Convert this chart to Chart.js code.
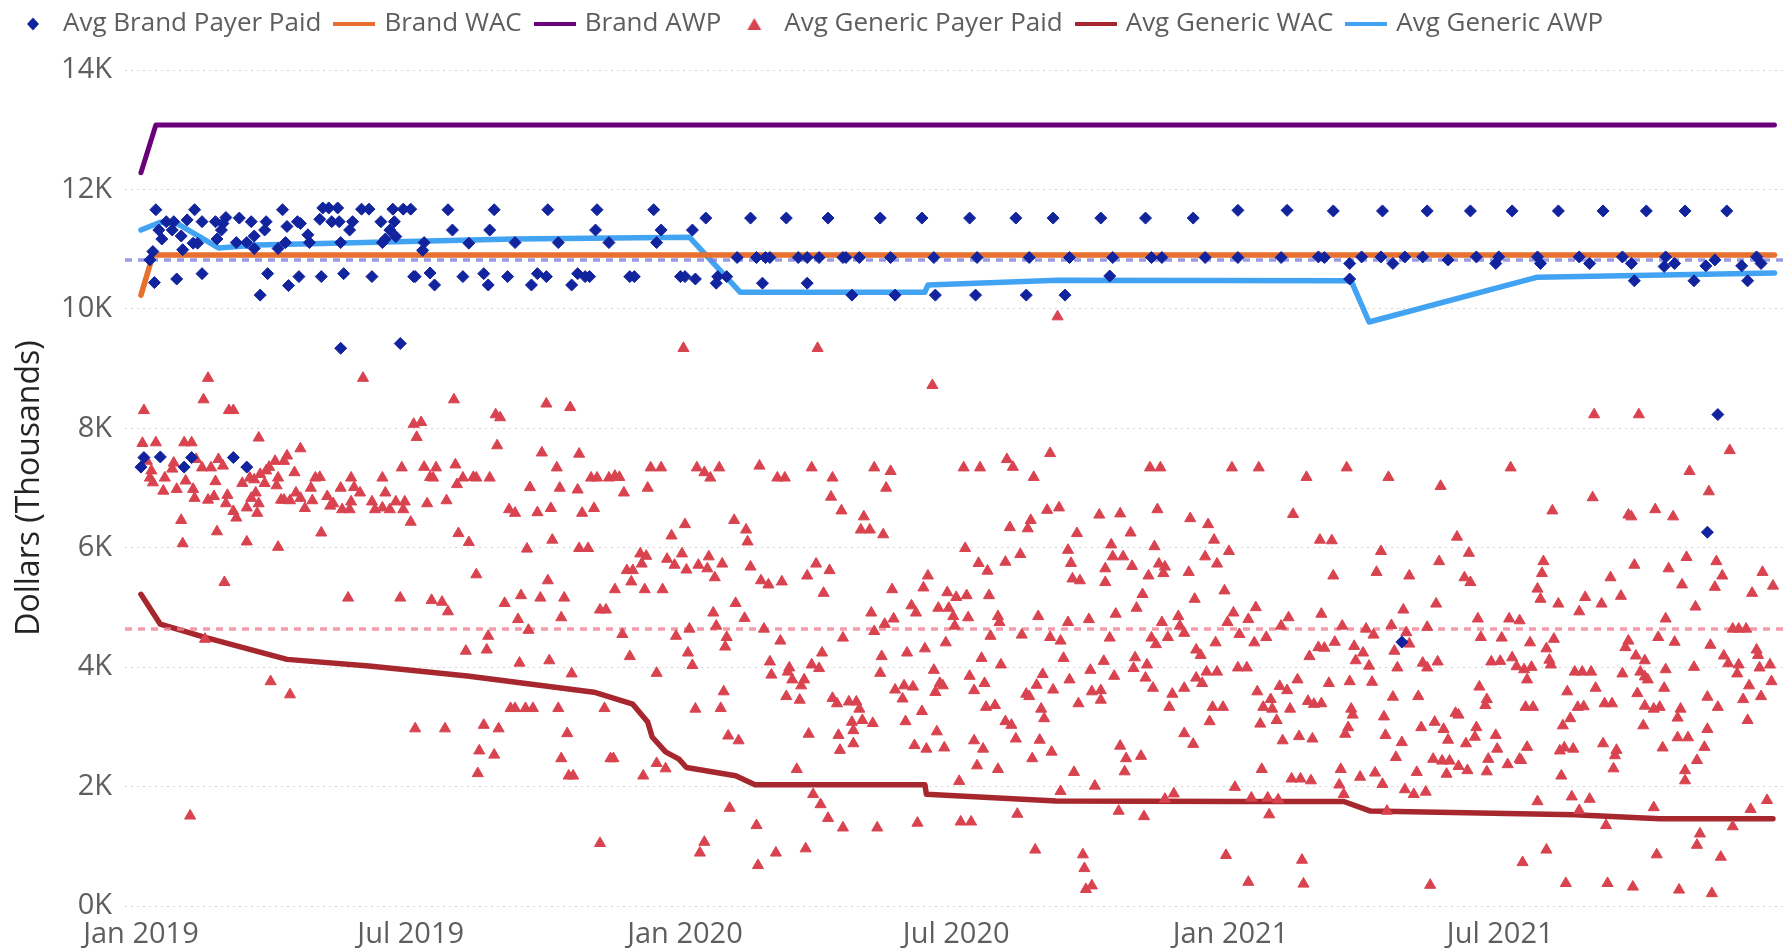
<!DOCTYPE html>
<html>
<head>
<meta charset="utf-8">
<script src="https://cdn.jsdelivr.net/npm/chart.js@4.4.0/dist/chart.umd.min.js"></script>
<style>
html, body { margin: 0; padding: 0; background: #fff; }
#wrap { width: 1792px; height: 948px; }
</style>
</head>
<body>
<div id="wrap"><canvas id="chart" width="1792" height="948"></canvas></div>
<script>
// x values are days counted from 1 Jan 2019, y values are thousands of dollars
const tickDays = [0, 181, 365, 547, 731, 912];
const tickLabels = ['Jan 2019', 'Jul 2019', 'Jan 2020', 'Jul 2020', 'Jan 2021', 'Jul 2021'];
const dayMin = -10.7;
const dayMax = 1102.8;

const avgBrandPaid = 10.82;
const avgGenericPaid = 4.64;

const brandWac = [[0,10.23],[8,10.9],[1096,10.9]];
const brandAwp = [[0,12.28],[10,13.08],[1096,13.08]];

const genericAwp = [[0,11.32],[13,11.45],[25,11.42],[52,11.02],[78,11.07],[250,11.17],[368,11.2],[402,10.28],
  [526,10.28],[528,10.4],[615,10.48],[812,10.47],[824,9.78],[937,10.53],[1096,10.6]];

const genericWac = [[0,5.22],[13,4.72],[43,4.50],[98,4.13],[153,4.02],[219,3.85],[304,3.58],[330,3.38],[340,3.08],
  [343,2.83],[352,2.58],[361,2.46],[366,2.32],[399,2.18],[412,2.03],[526,2.03],[527,1.87],[614,1.76],[736,1.75],
  [807,1.75],[825,1.59],[962,1.53],[1019,1.46],[1095,1.46]];

const brandPaid = [
  [10,11.66],[36,11.66],[95,11.66],[122,11.69],[126,11.69],[132,11.69],[148,11.67],[153,11.67],[169,11.67],[176,11.67],
  [181,11.67],[206,11.66],[237,11.66],[273,11.66],[306,11.66],[344,11.66],
  [17,11.46],[22,11.46],[31,11.49],[41,11.46],[50,11.46],[57,11.53],[55,11.43],[66,11.52],[74,11.46],[84,11.46],
  [105,11.46],[107,11.43],[120,11.50],[128,11.46],[133,11.46],[142,11.46],[161,11.46],[170,11.46],
  [209,11.32],[234,11.32],[305,11.32],[349,11.32],[370,11.32],
  [12,11.32],[21,11.32],[14,11.17],[27,11.22],[35,11.10],[38,11.10],[51,11.17],[54,11.32],[64,11.11],[71,11.11],
  [76,11.22],[83,11.32],[76,11.01],[98,11.38],[97,11.11],[92,11.01],[112,11.24],[113,11.11],[134,11.11],[140,11.32],
  [162,11.11],[164,11.17],[167,11.32],[171,11.21],[190,11.11],[220,11.10],[251,11.11],[280,11.11],[314,11.11],[346,11.11],
  [8,10.96],[6,10.82],[28,10.99],[189,10.98],
  [9,10.44],[24,10.50],[41,10.59],[80,10.23],[85,10.59],[99,10.39],[106,10.54],[121,10.54],[136,10.59],[155,10.54],
  [183,10.54],[184,10.54],[194,10.60],[197,10.40],[216,10.54],[230,10.59],[233,10.40],[246,10.54],[262,10.40],[266,10.59],
  [272,10.54],[289,10.40],[293,10.59],[298,10.54],[301,10.54],[328,10.54],[331,10.54],[362,10.54],[365,10.54],[372,10.50],
  [134,9.34],[174,9.42],
  [2,7.51],[13,7.52],[0,7.35],[29,7.35],[34,7.51],[62,7.51],[71,7.35],
  [379,11.52],[409,11.52],[433,11.52],[461,11.52],[496,11.52],[524,11.52],[556,11.52],[587,11.52],[612,11.52],[644,11.52],
  [674,11.52],[706,11.52],[736,11.65],[769,11.65],
  [400,10.86],[413,10.86],[419,10.86],[422,10.86],[441,10.86],[447,10.86],[455,10.86],[471,10.86],[473,10.86],[482,10.86],
  [503,10.86],[532,10.86],[561,10.86],[596,10.86],[623,10.86],[652,10.86],[678,10.86],[685,10.86],[714,10.86],[736,10.86],
  [765,10.86],
  [386,10.43],[387,10.54],[393,10.54],[417,10.43],[447,10.43],[650,10.55],
  [477,10.23],[506,10.23],[533,10.23],[560,10.23],[594,10.23],[620,10.23],
  [800,11.64],[833,11.64],[863,11.64],[892,11.64],[920,11.64],[951,11.64],[981,11.64],[1010,11.64],[1036,11.64],[1064,11.64],
  [790,10.87],[794,10.86],[819,10.87],[832,10.87],[848,10.87],[860,10.87],[877,10.82],[896,10.87],[911,10.87],[937,10.87],
  [965,10.87],[994,10.87],[1023,10.87],[1056,10.82],[1084,10.87],
  [811,10.76],[840,10.76],[909,10.76],[939,10.76],[972,10.76],[1000,10.76],[1022,10.71],[1029,10.76],[1050,10.72],
  [1074,10.72],[1087,10.76],
  [811,10.50],[1002,10.47],[1042,10.47],[1078,10.47],
  [1058,8.23],[1051,6.26],[846,4.42]
];

const genericPaid = [
  [149,8.84],[45,8.84],[42,8.48],[2,8.30],[59,8.30],[62,8.30],[210,8.48],[272,8.41],[288,8.35],[238,8.23],[241,8.18],
  [183,8.07],[188,8.10],[185,7.85],[79,7.84],[239,7.71],[107,7.66],[1,7.75],[10,7.76],[29,7.76],[34,7.76],[269,7.59],
  [294,7.57],[98,7.54],[96,7.45],
  [4,7.45],[7,7.29],[6,7.17],[8,7.09],[15,6.95],[16,7.17],[22,7.42],[21,7.32],[24,6.98],[30,7.12],[35,6.98],[36,6.83],
  [37,7.48],[41,7.34],[45,6.80],[49,6.86],[50,7.11],[47,7.34],[52,7.48],[55,7.37],[58,6.88],[57,6.74],[62,6.61],[64,6.50],
  [68,7.08],[71,6.67],[73,7.17],[76,7.14],[77,6.92],[74,6.83],[78,6.58],[79,6.74],[80,7.23],[84,7.29],[83,7.08],[86,7.35],
  [90,7.45],[91,7.04],[92,7.17],[94,6.80],[96,6.80],[100,6.79],[103,7.26],[104,6.92],[107,6.83],[110,6.66],[114,7.00],
  [115,6.79],[117,7.17],[120,7.18],[125,6.86],[127,6.70],[129,6.74],[134,7.00],[135,6.64],[140,6.64],[141,7.17],[143,7.01],
  [141,6.77],[147,6.92],[155,6.77],[157,6.64],[162,7.17],[164,6.92],[162,6.67],[167,6.64],[171,6.77],[176,6.64],[177,6.77],
  [175,7.34],[181,6.43],[190,7.35],[198,7.34],[194,7.18],[196,7.17],[192,6.74],[205,6.79],[211,7.39],[212,7.06],[216,7.17],
  [223,7.18],[225,7.17],[234,7.17],[247,6.64],[251,6.58],[261,7.01],[266,6.59],[275,6.66],[279,7.34],[281,7.00],[293,6.97],
  [296,6.58],[304,6.66],[302,7.17],[306,7.17],[314,7.17],[318,7.20],[321,7.18],[324,6.92],[340,7.00],[342,7.34],[349,7.34],
  [27,6.46],[51,6.27],[28,6.07],[71,6.10],[92,6.01],[121,6.25],[213,6.24],[220,6.09],[259,5.98],[276,6.13],[294,5.99],
  [300,5.99],[356,6.20],[335,5.90],[339,5.86],[336,5.73],[353,5.81],[358,5.71],[326,5.62],[330,5.62],[329,5.43],[318,5.30],
  [338,5.30],[350,5.30],[56,5.42],[225,5.55],[273,5.45],
  [139,5.16],[174,5.16],[195,5.12],[202,5.09],[206,4.93],[244,5.07],[255,5.20],[268,5.16],[284,5.16],[253,4.80],[282,4.83],
  [308,4.96],[312,4.96],[260,4.62],[233,4.52],[323,4.55],[359,4.52],[43,4.47],[218,4.27],[232,4.29],[328,4.18],[254,4.07],
  [274,4.11],[346,3.90],[289,3.89],
  [87,3.76],[100,3.54],[248,3.31],[251,3.31],[258,3.31],[263,3.31],[280,3.31],[311,3.31],[184,2.97],[204,2.97],[230,3.03],
  [240,2.97],[286,2.89],[227,2.60],[237,2.53],[282,2.47],[315,2.47],[317,2.47],[346,2.39],[352,2.30],[226,2.22],[287,2.18],
  [290,2.18],[337,2.18],[308,1.05],[33,1.51],
  [364,9.34],[454,9.34],[615,9.87],[531,8.72],[610,7.58],[581,7.48],[585,7.35],[373,7.34],[378,7.26],[382,7.17],[388,7.34],
  [415,7.37],[427,7.17],[432,7.17],[450,7.34],[464,7.17],[492,7.34],[503,7.28],[500,7.00],[463,6.85],[470,6.62],[552,7.34],
  [563,7.34],[599,7.18],[677,7.34],[684,7.34],[732,7.34],[608,6.63],[616,6.67],[643,6.55],[657,6.57],[682,6.64],[704,6.49],
  [716,6.39],[365,6.39],[398,6.46],[406,6.30],[407,6.10],[485,6.52],[483,6.30],[489,6.30],[498,6.22],[628,6.24],[583,6.34],
  [597,6.46],[595,6.32],[664,6.25],[720,6.13],[553,5.99],[590,5.89],[580,5.76],[562,5.74],[568,5.61],[622,5.96],[651,6.05],
  [652,5.85],[659,5.85],[680,6.02],[730,5.94],[714,5.85],[722,5.73],[624,5.74],[647,5.65],[665,5.69],[683,5.73],[687,5.68],
  [686,5.57],[703,5.59],[625,5.48],[630,5.45],[647,5.42],[676,5.53],[363,5.90],[381,5.85],[374,5.71],[366,5.63],[380,5.65],
  [390,5.73],[385,5.50],[409,5.68],[416,5.45],[421,5.38],[430,5.43],[447,5.53],[453,5.73],[462,5.62],[458,5.24],[504,5.30],
  [528,5.53],[525,5.33],[541,5.25],[547,5.17],[554,5.20],[569,5.20],[672,5.22],[727,5.28],[707,5.14],[399,5.07],[384,4.91],
  [386,4.69],[405,4.82],[368,4.64],[393,4.50],[392,4.34],[418,4.64],[429,4.44],[367,4.24],[370,4.03],[457,4.24],[471,4.49],
  [492,4.60],[499,4.72],[505,4.81],[490,4.91],[517,5.03],[520,4.91],[535,4.99],[542,4.99],[545,4.85],[546,4.69],[555,4.83],
  [575,4.85],[576,4.75],[602,4.85],[622,4.75],[636,4.80],[654,4.89],[668,4.99],[685,4.75],[696,4.85],[697,4.69],[729,4.75],
  [733,4.91],[570,4.52],[591,4.54],[610,4.50],[617,4.44],[650,4.49],[678,4.49],[681,4.38],[689,4.50],[700,4.57],[721,4.41],
  [708,4.29],[711,4.20],[540,4.41],[526,4.31],[514,4.24],[497,4.18],[496,3.90],[564,4.15],[577,4.04],[605,3.88],[619,4.15],
  [646,4.10],[667,4.16],[675,4.04],[666,3.98],[637,3.95],[653,3.85],[674,3.82],[708,3.82],[715,3.92],[722,3.92],[422,4.09],
  [423,3.87],[435,3.99],[437,3.79],[434,3.92],[450,4.04],[455,3.98],[445,3.79],[443,3.69],[532,3.95],[556,3.85],[566,3.73],
  [601,3.70],[623,3.79],[679,3.65],[712,3.73],[692,3.55],[700,3.65],[391,3.59],[433,3.51],[442,3.45],[464,3.48],[467,3.39],
  [475,3.42],[480,3.42],[482,3.30],[506,3.62],[512,3.69],[518,3.67],[511,3.47],[533,3.58],[538,3.69],[536,3.73],[559,3.61],
  [594,3.55],[596,3.51],[612,3.62],[638,3.59],[644,3.61],[644,3.45],[629,3.39],[690,3.33],[719,3.33],[726,3.33],[372,3.30],
  [389,3.31],[477,3.08],[478,2.94],[484,3.11],[491,3.06],[513,3.09],[524,3.26],[567,3.33],[573,3.36],[580,3.09],[584,3.03],
  [604,3.30],[606,3.14],[657,2.68],[661,2.47],[671,2.51],[660,2.25],[700,2.89],[706,2.71],[717,3.09],[394,2.85],[401,2.77],
  [448,2.88],[468,2.86],[469,2.61],[478,2.72],[519,2.69],[527,2.63],[539,2.65],[534,2.92],[559,2.77],[565,2.63],[587,2.80],
  [603,2.78],[611,2.58],[561,2.35],[575,2.29],[598,2.47],[626,2.24],[440,2.29],[549,2.09],[640,2.01],[617,1.92],[693,1.88],
  [687,1.79],[734,1.99],[395,1.64],[451,1.87],[456,1.70],[461,1.47],[413,1.35],[471,1.31],[494,1.31],[521,1.39],[550,1.41],
  [557,1.41],[588,1.54],[656,1.59],[673,1.50],[378,1.07],[375,0.89],[426,0.89],[446,0.96],[414,0.68],[600,0.94],[632,0.86],
  [633,0.63],[634,0.28],[638,0.34],[728,0.85],
  [975,8.23],[1005,8.23],[1066,7.63],[1039,7.28],[1052,6.94],[974,6.84],[947,6.62],[998,6.55],[1000,6.52],[1016,6.64],
  [1028,6.52],[750,7.34],[809,7.34],[782,7.18],[837,7.18],[872,7.03],[919,7.34],[773,6.56],[791,6.13],[799,6.12],[883,6.18],
  [832,5.94],[891,5.91],[871,5.77],[829,5.59],[800,5.53],[851,5.53],[888,5.50],[892,5.42],[941,5.77],[940,5.57],[937,5.31],
  [939,5.14],[951,5.06],[969,5.17],[965,4.93],[980,5.06],[986,5.50],[993,5.19],[1002,5.71],[1025,5.65],[1037,5.84],
  [1034,5.38],[1043,5.01],[1057,5.77],[1061,5.53],[1056,5.34],[1088,5.59],[1081,5.24],[1095,5.36],[748,5.00],[743,4.80],
  [770,4.83],[792,4.89],[765,4.69],[737,4.55],[755,4.50],[747,4.41],[806,4.69],[822,4.64],[827,4.54],[839,4.70],[847,4.96],
  [863,4.67],[869,5.06],[897,4.81],[918,4.81],[925,4.78],[899,4.50],[913,4.49],[932,4.41],[948,4.47],[943,4.31],[945,4.12],
  [946,4.04],[1023,4.81],[1018,4.50],[1029,4.42],[998,4.44],[996,4.33],[1003,4.19],[1009,4.11],[1053,4.37],[1068,4.64],
  [1072,4.64],[1077,4.64],[1084,4.29],[1085,4.20],
  [790,4.33],[794,4.32],[801,4.42],[814,4.35],[820,4.24],[815,4.11],[824,4.02],[784,4.18],[841,4.27],[849,4.58],[851,4.39],
  [843,3.99],[860,4.07],[863,3.99],[870,4.09],[906,4.09],[912,4.10],[920,4.16],[923,4.01],[928,3.96],[933,4.00],[930,3.79],
  [962,3.92],[967,3.92],[973,3.92],[994,3.89],[1006,3.92],[1009,3.84],[1011,3.79],[1023,3.96],[1042,4.00],[1062,4.19],
  [1065,4.06],[1072,4.04],[1071,3.89],[1086,3.99],[1093,4.04],[1094,3.76],[1079,3.69],[1075,3.46],[1087,3.51],[1078,3.11],
  [1051,3.50],[1058,3.33],[1051,2.96],[1049,2.66],[1044,2.44],[1036,2.27],[1036,2.10],[1033,3.30],[1031,3.15],[1038,2.82],
  [1031,2.82],[1021,2.65],[1008,3.02],[1022,3.65],[1019,3.33],[1015,3.30],[1009,3.35],[1004,3.56],[982,3.39],[987,3.39],
  [976,3.65],[968,3.34],[964,3.33],[959,3.14],[954,3.02],[957,3.59],[952,2.60],[955,2.65],[961,2.63],[953,2.18],[981,2.72],
  [990,2.61],[989,2.52],[988,2.30],[736,3.99],[742,3.99],[749,3.59],[764,3.68],[769,3.61],[776,3.79],[797,3.73],[811,3.76],
  [826,3.75],[758,3.46],[753,3.33],[759,3.30],[771,3.30],[783,3.43],[787,3.38],[792,3.39],[812,3.30],[813,3.20],[834,3.17],
  [751,3.05],[762,3.11],[766,2.77],[777,2.84],[786,2.80],[810,2.99],[808,2.88],[835,2.86],[840,3.50],[857,3.51],[846,2.74],
  [842,2.49],[859,2.99],[868,3.08],[874,2.96],[877,2.78],[882,3.23],[884,3.20],[889,2.72],[896,2.99],[895,2.83],[898,3.67],
  [903,3.46],[902,3.36],[909,2.86],[910,2.63],[904,2.46],[903,2.25],[917,2.37],[925,2.46],[926,2.44],[930,2.66],[929,3.33],
  [934,3.33],[867,2.46],[873,2.43],[878,2.43],[876,2.21],[884,2.34],[890,2.27],[856,2.24],[848,1.95],[854,1.87],[862,1.91],
  [752,2.29],[772,2.13],[778,2.13],[785,2.10],[805,2.29],[804,2.03],[818,2.16],[828,2.23],[833,2.04],[745,1.81],[756,1.81],
  [763,1.78],[807,1.87],[937,1.75],[960,1.83],[972,1.79],[965,1.60],[1015,1.65],[1080,1.62],[1091,1.77],[757,1.53],
  [836,1.59],[983,1.35],[1046,1.21],[1044,1.02],[1068,1.33],[779,0.77],[943,0.94],[927,0.73],[1017,0.86],[1060,0.82],
  [743,0.40],[780,0.37],[865,0.35],[956,0.38],[984,0.38],[1001,0.32],[1032,0.27],[1054,0.21]
];

const navy = '#12239E';
const orange = '#E8702F';
const purple = '#6B007B';
const red = '#D9434F';
const maroon = '#A6282E';
const skyBlue = '#41A3F2';

function toPoints(arr) {
    return arr.map(p => ({x: p[0], y: p[1]}));
}

function flat(value) {
    return [{x: dayMin, y: value}, {x: dayMax, y: value}];
}

// small canvases used as legend markers
function icon(w, h, draw) {
    const c = document.createElement('canvas');
    c.width = w;
    c.height = h;
    draw(c.getContext('2d'));
    return c;
}

function lineIcon(color) {
    return icon(42, 4, g => { g.fillStyle = color; g.fillRect(0, 0, 42, 4); });
}

const diamondIcon = icon(16, 16, g => {
    g.fillStyle = navy;
    g.beginPath();
    g.moveTo(8, 1.5); g.lineTo(14, 8); g.lineTo(8, 14.5); g.lineTo(2, 8);
    g.closePath();
    g.fill();
});

const triangleIcon = icon(16, 14, g => {
    g.fillStyle = red;
    g.beginPath();
    g.moveTo(8, 1); g.lineTo(15, 13); g.lineTo(1, 13);
    g.closePath();
    g.fill();
});

const legendIcons = [diamondIcon, lineIcon(orange), lineIcon(purple), triangleIcon, lineIcon(maroon), lineIcon(skyBlue)];

function lineSet(label, data, color, width) {
    return {
        label: label,
        data: toPoints(data),
        showLine: true,
        borderColor: color,
        backgroundColor: color,
        borderWidth: width,
        pointRadius: 0,
        tension: 0,
        borderCapStyle: 'round',
        borderJoinStyle: 'round',
        order: 3
    };
}

const datasets = [
    {
        label: 'Avg Brand Payer Paid',
        data: toPoints(brandPaid),
        pointStyle: 'rectRot',
        pointRadius: 6,
        borderWidth: 1,
        backgroundColor: navy,
        borderColor: navy,
        order: 0
    },
    lineSet('Brand WAC', brandWac, orange, 5.5),
    lineSet('Brand AWP', brandAwp, purple, 5),
    {
        label: 'Avg Generic Payer Paid',
        data: toPoints(genericPaid),
        pointStyle: 'triangle',
        pointRadius: 6.4,
        borderWidth: 1,
        backgroundColor: red,
        borderColor: red,
        order: 1
    },
    lineSet('Avg Generic WAC', genericWac, maroon, 5.5),
    lineSet('Avg Generic AWP', genericAwp, skyBlue, 5.5),
    {
        label: 'avgBrand',
        data: flat(avgBrandPaid),
        showLine: true,
        borderColor: 'rgba(120,120,215,0.75)',
        borderWidth: 3.5,
        borderDash: [7, 6],
        pointRadius: 0,
        order: 2
    },
    {
        label: 'avgGeneric',
        data: flat(avgGenericPaid),
        showLine: true,
        borderColor: 'rgba(238,130,150,0.8)',
        borderWidth: 3.5,
        borderDash: [7, 6],
        pointRadius: 0,
        order: 2
    }
];

// push the plot area down a little below the legend row
const legendGap = {
    id: 'legendGap',
    beforeInit(chart) {
        const fit = chart.legend.fit;
        chart.legend.fit = function () {
            fit.call(this);
            this.height += 23;
        };
    }
};

Chart.defaults.font.family = "'Open Sans', sans-serif";

new Chart(document.getElementById('chart'), {
    type: 'scatter',
    data: { datasets: datasets },
    plugins: [legendGap],
    options: {
        responsive: false,
        animation: false,
        devicePixelRatio: 1,
        layout: { padding: { top: -5, right: 4, left: 0, bottom: 0 } },
        plugins: {
            tooltip: { enabled: false },
            legend: {
                position: 'top',
                align: 'start',
                labels: {
                    usePointStyle: true,
                    pointStyleWidth: 34,
                    padding: 16,
                    color: '#605E5C',
                    font: { size: 26 },
                    generateLabels: chart => chart.data.datasets.slice(0, 6).map((ds, i) => ({
                        text: ds.label,
                        pointStyle: legendIcons[i],
                        fillStyle: ds.backgroundColor,
                        strokeStyle: ds.borderColor,
                        lineWidth: 0,
                        hidden: false,
                        datasetIndex: i,
                        fontColor: '#605E5C'
                    }))
                }
            }
        },
        scales: {
            x: {
                type: 'linear',
                min: dayMin,
                max: dayMax,
                grid: { display: false, drawTicks: false },
                border: { display: false },
                afterBuildTicks: scale => {
                    scale.ticks = tickDays.map(v => ({ value: v }));
                },
                afterFit: scale => { scale.height = 42; },
                ticks: {
                    autoSkip: false,
                    maxRotation: 0,
                    padding: 11,
                    color: '#605E5C',
                    font: { size: 29 },
                    callback: value => tickLabels[tickDays.indexOf(value)]
                }
            },
            y: {
                min: 0,
                max: 14,
                grid: { color: '#D4D4D4', lineWidth: 1, drawTicks: false },
                border: { display: false, dash: [2, 4] },
                afterFit: scale => { scale.width = 125; },
                ticks: {
                    stepSize: 2,
                    padding: 13,
                    color: '#605E5C',
                    font: { size: 29 },
                    callback: value => value + 'K'
                },
                title: {
                    display: true,
                    text: 'Dollars (Thousands)',
                    color: '#252423',
                    font: { size: 32 },
                    padding: { top: 11, bottom: 0 }
                }
            }
        }
    }
});
</script>
</body>
</html>
